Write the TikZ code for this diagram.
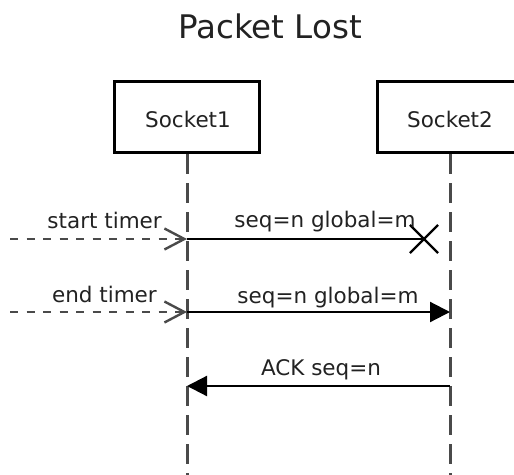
\documentclass[tikz,border=0pt]{standalone}
\usepackage{fontspec}
\setmainfont{DejaVu Sans}
\usetikzlibrary{arrows.meta,shapes.misc}
\definecolor{txt}{HTML}{222222}
\definecolor{lifeln}{HTML}{4a4a4a}
\tikzset{
  actor/.style={draw=black, line width=3.4pt, fill=white, minimum width=145pt, minimum height=71pt, inner sep=0pt, font=\fontsize{21.5}{24}\selectfont, text=txt},
  lifeline/.style={draw=lifeln, line width=3pt, dash pattern=on 20pt off 9pt},
  msg/.style={draw=black, line width=2.2pt},
  ext/.style={draw=lifeln, line width=2.4pt, dash pattern=on 8pt off 8.5pt, -{Straight Barb[length=20pt,width=21pt,line width=2.4pt]}},
  filled/.style={-{Triangle[length=20pt,width=20pt]}},
  lbl/.style={font=\fontsize{21.5}{24}\selectfont, text=txt, inner sep=0pt},
  lost/.style={cross out, draw=black, line width=2.2pt, minimum size=26pt, inner sep=0pt}
}
\begin{document}
\begin{tikzpicture}[x=1pt,y=-1pt]
\useasboundingbox (0,0) rectangle (514,474);
\begin{scope}
\clip (0,0) rectangle (514,474);
\node[lbl, font=\fontsize{32.5}{36}\selectfont, anchor=base] (title) at (270,38) {Packet Lost};
\node[actor] (s1) at (187,117) {};
\node[actor] (s2) at (450,117) {};
\node[lbl, anchor=base] (s1t) at (188,127) {Socket1};
\node[lbl, anchor=base] (s2t) at (450,127) {Socket2};
\coordinate (s1end) at (187,480);
\coordinate (s2end) at (450,480);
\draw[lifeline] (s1.south) -- (s1end);
\draw[lifeline] (s2.south) -- (s2end);
% message 1 (lost)
\coordinate (a1) at (187,239);
\coordinate (e1) at (10,239);
\node[lost] (x1) at (424,239) {};
\draw[ext] (e1) -- (a1);
\draw[msg] (a1) -- (x1.center);
\node[lbl, anchor=base east] (l1) at (162,228) {start timer};
\node[lbl, anchor=base] (m1) at (325,227) {seq=n global=m};
% message 2
\coordinate (a2) at (187,312);
\coordinate (b2) at (450,312);
\coordinate (e2) at (10,312);
\draw[ext] (e2) -- (a2);
\draw[msg, filled] (a2) -- (b2);
\node[lbl, anchor=base east] (l2) at (157,302) {end timer};
\node[lbl, anchor=base] (m2) at (328,303) {seq=n global=m};
% message 3
\coordinate (a3) at (187,386);
\coordinate (b3) at (450,386);
\draw[msg, filled] (b3) -- (a3);
\node[lbl, anchor=base] (m3) at (321,375) {ACK seq=n};
\end{scope}
\end{tikzpicture}
\end{document}
